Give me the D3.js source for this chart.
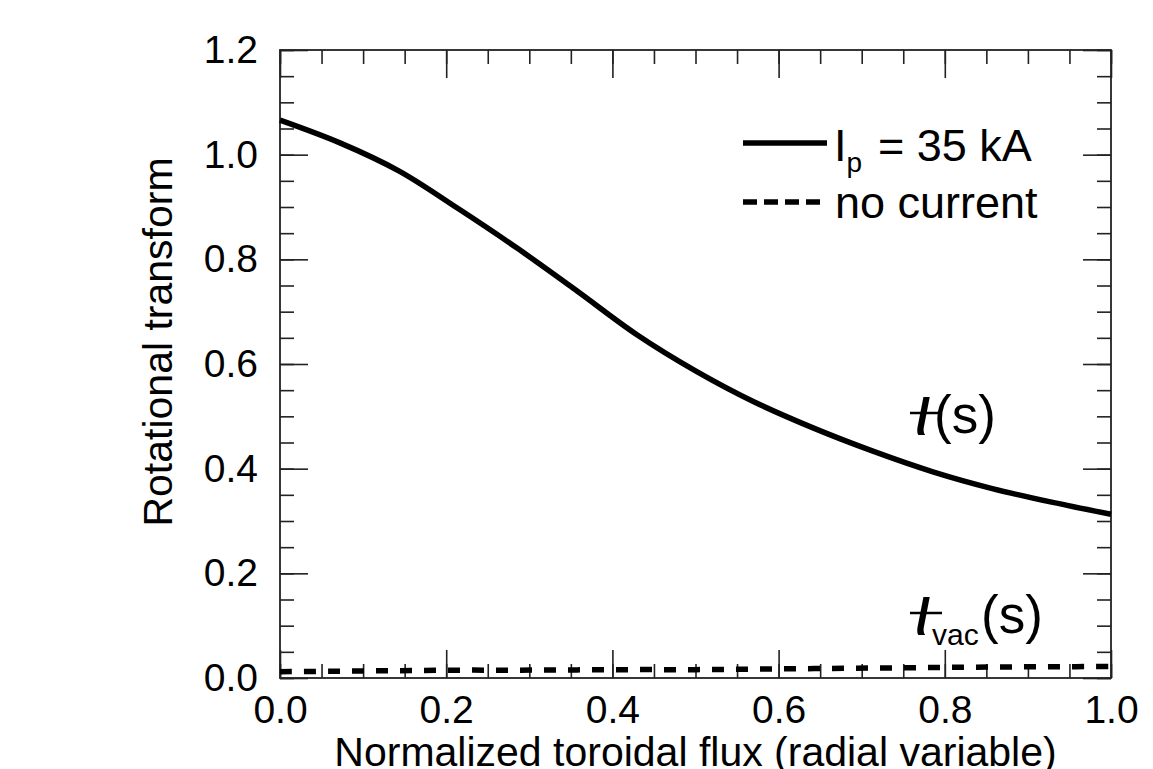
<!DOCTYPE html>
<html>
<head>
<meta charset="utf-8">
<script src="https://cdn.jsdelivr.net/npm/d3@7"></script>
<style>
  html, body { margin: 0; padding: 0; background: #fff; }
  svg { display: block; font-family: "Liberation Sans", Arial, Helvetica, sans-serif; }
</style>
</head>
<body>
<svg id="chart" width="1153" height="769"></svg>
<script>
// ---- data ----
const sGrid = [0, 0.0714, 0.1429, 0.2143, 0.2857, 0.3571, 0.4286, 0.5, 0.5714, 0.6429, 0.7143, 0.7857, 0.8571, 0.9286, 1.0];
const iotaCurrent = [1.066, 1.023, 0.969, 0.897, 0.821, 0.740, 0.657, 0.587, 0.527, 0.477, 0.433, 0.394, 0.362, 0.336, 0.313];
const iotaVacuum = [0.012, 0.013, 0.014, 0.015, 0.015, 0.0155, 0.016, 0.016, 0.017, 0.018, 0.019, 0.020, 0.021, 0.0215, 0.022];
const xMajorTicks = [0.0, 0.2, 0.4, 0.6, 0.8, 1.0];
const yMajorTicks = [0.0, 0.2, 0.4, 0.6, 0.8, 1.0, 1.2];
const xMinorTicks = d3.range(0, 21).map(i => i / 20);
const yMinorTicks = d3.range(0, 25).map(i => i / 20);
const legendLabels = ["= 35 kA", "no current"];
const xTitle = "Normalized toroidal flux (radial variable)";
const yTitle = "Rotational transform";

// ---- layout ----
const L = 280, R = 1111, T = 50, B = 678;
const svg = d3.select("#chart");
const x = d3.scaleLinear().domain([0, 1]).range([L, R]);
const y = d3.scaleLinear().domain([0, 1.2]).range([B, T]);
const axisColor = "#222";
const tickFont = 39;

function styleAxis(g) {
  g.select(".domain").remove();
  g.selectAll(".tick line").attr("stroke", axisColor).attr("stroke-width", 1.6);
  g.selectAll("text").attr("fill", "#000").style("font-size", tickFont + "px")
    .style("font-family", '"Liberation Sans", Arial, sans-serif');
}

// minor ticks (all four sides, inward)
svg.append("g").attr("transform", `translate(0,${B})`)
  .call(d3.axisBottom(x).tickValues(xMinorTicks).tickSizeInner(-14).tickSizeOuter(0).tickFormat(""))
  .call(styleAxis);
svg.append("g").attr("transform", `translate(0,${T})`)
  .call(d3.axisTop(x).tickValues(xMinorTicks).tickSizeInner(-14).tickSizeOuter(0).tickFormat(""))
  .call(styleAxis);
svg.append("g").attr("transform", `translate(${L},0)`)
  .call(d3.axisLeft(y).tickValues(yMinorTicks).tickSizeInner(-14).tickSizeOuter(0).tickFormat(""))
  .call(styleAxis);
svg.append("g").attr("transform", `translate(${R},0)`)
  .call(d3.axisRight(y).tickValues(yMinorTicks).tickSizeInner(-14).tickSizeOuter(0).tickFormat(""))
  .call(styleAxis);

// major ticks
svg.append("g").attr("transform", `translate(0,${B})`)
  .call(d3.axisBottom(x).tickValues(xMajorTicks).tickSizeInner(-28).tickSizeOuter(0)
    .tickPadding(17).tickFormat(d3.format(".1f")))
  .call(styleAxis);
svg.append("g").attr("transform", `translate(0,${T})`)
  .call(d3.axisTop(x).tickValues(xMajorTicks).tickSizeInner(-28).tickSizeOuter(0).tickFormat(""))
  .call(styleAxis);
svg.append("g").attr("transform", `translate(${L},0)`)
  .call(d3.axisLeft(y).tickValues(yMajorTicks).tickSizeInner(-28).tickSizeOuter(0)
    .tickPadding(22).tickFormat(d3.format(".1f")))
  .call(styleAxis);
svg.append("g").attr("transform", `translate(${R},0)`)
  .call(d3.axisRight(y).tickValues(yMajorTicks).tickSizeInner(-28).tickSizeOuter(0).tickFormat(""))
  .call(styleAxis);

// frame
svg.append("rect").attr("x", L).attr("y", T).attr("width", R - L).attr("height", B - T)
  .attr("fill", "none").attr("stroke", axisColor).attr("stroke-width", 1.8);

// lines
const line = d3.line().x((d, i) => x(sGrid[i])).y(d => y(d)).curve(d3.curveCatmullRom.alpha(0.5));
svg.append("path").datum(iotaCurrent).attr("d", line)
  .attr("fill", "none").attr("stroke", "#000").attr("stroke-width", 5.5).attr("stroke-linejoin", "round");
svg.append("path").datum(iotaVacuum).attr("d", line)
  .attr("fill", "none").attr("stroke", "#000").attr("stroke-width", 5.5).attr("stroke-dasharray", "12,12");

// axis titles
svg.append("text").attr("x", (L + R) / 2).attr("y", 766).attr("text-anchor", "middle")
  .style("font-size", "41px").text(xTitle);
svg.append("text").attr("transform", "translate(172,342) rotate(-90)").attr("text-anchor", "middle")
  .style("font-size", "41px").text(yTitle);

// legend
svg.append("line").attr("x1", 743).attr("x2", 827).attr("y1", 143).attr("y2", 143)
  .attr("stroke", "#000").attr("stroke-width", 5.5);
const lt = svg.append("text").attr("x", 834).attr("y", 161).style("font-size", "45px");
lt.append("tspan").text("I");
lt.append("tspan").attr("dy", 11).style("font-size", "28px").text("p");
lt.append("tspan").attr("x", 878).attr("dy", -11).text(legendLabels[0]);
svg.append("line").attr("x1", 743).attr("x2", 824).attr("y1", 202).attr("y2", 202)
  .attr("stroke", "#000").attr("stroke-width", 5.5).attr("stroke-dasharray", "14,7");
svg.append("text").attr("x", 835).attr("y", 218).style("font-size", "45px").text(legendLabels[1]);

// curve labels (iota-bar)
function iotaLabel(baseY, sub) {
  const g = svg.append("g");
  g.append("text").attr("x", 915).attr("y", baseY + 2).style("font-size", "72px")
    .style("font-style", "italic").text("ι");
  g.append("line").attr("x1", 910).attr("x2", 942).attr("y1", baseY - 20).attr("y2", baseY - 20)
    .attr("stroke", "#000").attr("stroke-width", 2.5);
  if (sub) {
    g.append("text").attr("x", 932).attr("y", baseY + 12).style("font-size", "30px").text(sub);
    g.append("text").attr("x", 981).attr("y", baseY).style("font-size", "53px").text("(s)");
  } else {
    g.append("text").attr("x", 934).attr("y", baseY).style("font-size", "53px").text("(s)");
  }
}
iotaLabel(433, null);
iotaLabel(633, "vac");
</script>
</body>
</html>
